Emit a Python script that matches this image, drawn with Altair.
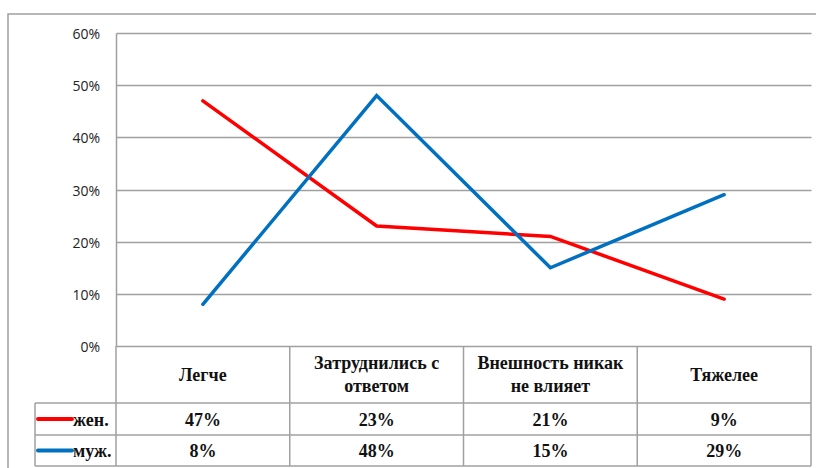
import altair as alt
import pandas as pd

# ---- data ----
categories = ["Легче", "Затруднились с\nответом", "Внешность никак\nне влияет", "Тяжелее"]
series_names = ["жен.", "муж."]
women = [0.47, 0.23, 0.21, 0.09]
men = [0.08, 0.48, 0.15, 0.29]
tick_values = [0, 0.1, 0.2, 0.3, 0.4, 0.5, 0.6]
colors = ["#ff0000", "#0070c0"]

# ---- layout constants (pixels) ----
W, H = 695, 313
PAD_L, PAD_T = 116, 33
YMAX = 0.6
u = YMAX / H
colw = W / len(categories)


def px_x(p):
    return p / colw


def px_y(p):
    return -p * u


HEADER_B, ROW1_B, ROW2_B = 57, 89, 120
LEG_L = -81
GRID = "#a0a0a0"
LINE_H = 23

xs = alt.Scale(domain=[0, len(categories)], nice=False, zero=False)
ys = alt.Scale(domain=[0, YMAX], nice=False, zero=False)

yaxis = alt.Axis(values=tick_values, grid=True, ticks=False, labels=False, title=None,
                 gridColor=GRID, gridWidth=1.5, gridOpacity=1,
                 domainColor=GRID, domainWidth=1.5)


def X(field):
    return alt.X(field, scale=xs, axis=None)


def Y(field):
    return alt.Y(field, scale=ys, axis=yaxis)


# ---- line data ----
rows = []
for s, vals in zip(series_names, [women, men]):
    for i, v in enumerate(vals):
        rows.append({"series": s, "pos": i + 0.5, "value": v, "order": i})
line_df = pd.DataFrame(rows)

# ---- y tick labels ----
tick_df = pd.DataFrame({"value": tick_values,
                        "x": [px_x(-16)] * len(tick_values),
                        "label": [f"{round(t * 100)}%" for t in tick_values]})

# ---- table grid lines ----
rl = []
for k in range(len(categories) + 1):
    rl.append({"x": k, "x2": k, "y": 0, "y2": px_y(ROW2_B)})
rl.append({"x": px_x(LEG_L), "x2": px_x(LEG_L), "y": px_y(HEADER_B), "y2": px_y(ROW2_B)})
for b in [HEADER_B, ROW1_B, ROW2_B]:
    rl.append({"x": px_x(LEG_L), "x2": len(categories), "y": px_y(b), "y2": px_y(b)})
rules_df = pd.DataFrame(rl)

# ---- table texts ----
hdr_rows = []
for i, c in enumerate(categories):
    parts = c.split("\n")
    n = len(parts)
    for j, p in enumerate(parts):
        off = (j - (n - 1) / 2) * LINE_H
        hdr_rows.append({"pos": i + 0.5, "y": px_y(HEADER_B / 2 + 1 + off), "label": p})
hdr_df = pd.DataFrame(hdr_rows)

cell_rows = []
row_centers = [px_y((HEADER_B + ROW1_B) / 2 + 2), px_y((ROW1_B + ROW2_B) / 2 + 1.5)]
for r, (s, vals) in enumerate(zip(series_names, [women, men])):
    for i, v in enumerate(vals):
        cell_rows.append({"pos": i + 0.5, "y": row_centers[r], "label": f"{round(v * 100)}%"})
cell_df = pd.DataFrame(cell_rows)

leg_df = pd.DataFrame({"series": series_names,
                       "x": [px_x(38 - PAD_L)] * 2,
                       "x2": [px_x(72 - PAD_L)] * 2,
                       "tx": [px_x(73 - PAD_L)] * 2,
                       "y": [px_y((HEADER_B + ROW1_B) / 2), px_y((ROW1_B + ROW2_B) / 2)],
                       "ty": row_centers})

color_enc = alt.Color("series:N", scale=alt.Scale(domain=series_names, range=colors), legend=None)

frame = alt.Chart(pd.DataFrame({"a": [0]})).mark_rect(
    fillOpacity=0, stroke=GRID, strokeWidth=1.5
).encode(x=alt.value(8 - PAD_L), y=alt.value(14 - PAD_T),
         x2=alt.value(W + 30), y2=alt.value(H + 200))

rules = alt.Chart(rules_df).mark_rule(color=GRID, strokeWidth=1.5).encode(
    x=X("x:Q"), x2="x2:Q", y=Y("y:Q"), y2="y2:Q")

ticks_txt = alt.Chart(tick_df).mark_text(
    align="right", baseline="middle", font="Open Sans", fontSize=14, color="#222222", dy=2
).encode(x=X("x:Q"), y=Y("value:Q"), text="label:N")

lines = alt.Chart(line_df).mark_line(strokeWidth=3.5, strokeCap="round").encode(
    x=X("pos:Q"), y=Y("value:Q"), color=color_enc, order="order:Q")

text_style = dict(font="Liberation Serif", fontWeight="bold", fontSize=18,
                  color="#111111", baseline="middle")

hdr = alt.Chart(hdr_df).mark_text(align="center", **text_style).encode(
    x=X("pos:Q"), y=Y("y:Q"), text="label:N")

cells = alt.Chart(cell_df).mark_text(align="center", **text_style).encode(
    x=X("pos:Q"), y=Y("y:Q"), text="label:N")

leg_lines = alt.Chart(leg_df).mark_rule(strokeWidth=4, strokeCap="round").encode(
    x=X("x:Q"), x2="x2:Q", y=Y("y:Q"), color=color_enc)

leg_text = alt.Chart(leg_df).mark_text(align="left", **text_style).encode(
    x=X("tx:Q"), y=Y("ty:Q"), text="series:N")

chart = alt.layer(frame, rules, ticks_txt, lines, hdr, cells, leg_lines, leg_text).properties(
    width=W, height=H,
    autosize=alt.AutoSizeParams(type="none"),
    padding={"left": PAD_L, "top": PAD_T, "right": 816 - PAD_L - W, "bottom": 468 - PAD_T - H},
    background="white",
).configure_view(stroke=None)

chart.save("out.html", embed_options={"renderer": "svg", "actions": False})
